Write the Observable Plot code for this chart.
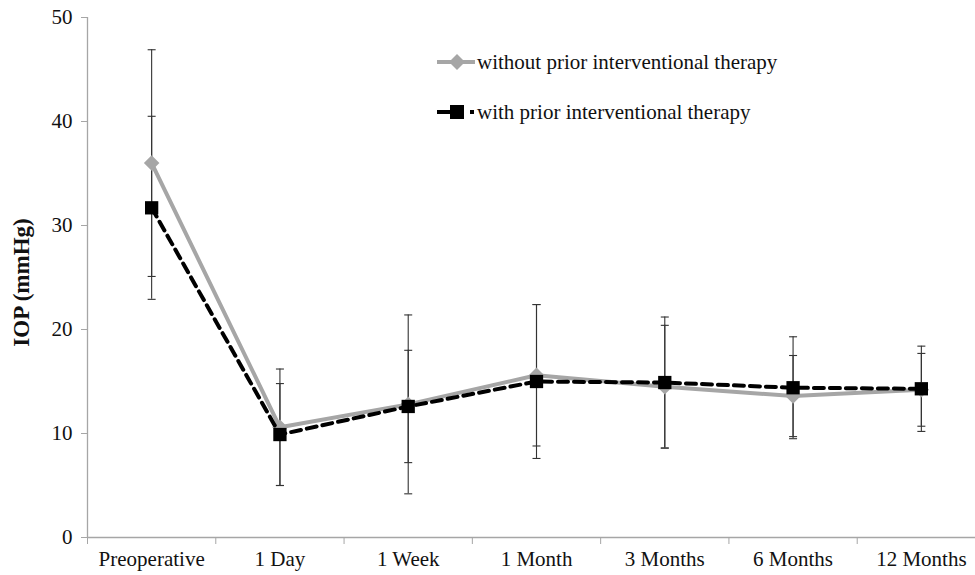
<!DOCTYPE html>
<html>
<head>
<meta charset="utf-8">
<script src="https://cdn.jsdelivr.net/npm/d3@7"></script>
<script src="https://cdn.jsdelivr.net/npm/@observablehq/plot@0.6"></script>
<style>
  html, body { margin: 0; padding: 0; background: #fff; overflow: hidden; }
  #wrap { position: relative; width: 975px; height: 575px; }
  #legend { position: absolute; left: 437px; top: 46px; font-family: "Liberation Serif", "Times New Roman", Times, serif; font-size: 21px; color: #111; }
  #legend .row { display: flex; align-items: center; height: 32px; margin-bottom: 18px; }
  #legend svg { display: block; }
  svg.plot text { font-family: "Liberation Serif", "Times New Roman", Times, serif; }
</style>
</head>
<body>
<div id="wrap"></div>
<script>
const categories = ["Preoperative", "1 Day", "1 Week", "1 Month", "3 Months", "6 Months", "12 Months"];
const withoutMean = [36.0, 10.6, 12.8, 15.6, 14.5, 13.6, 14.2];
const withoutSD   = [10.9, 5.6, 8.6, 6.8, 5.9, 3.9, 3.5];
const withMean    = [31.7, 9.9, 12.6, 15.0, 14.9, 14.4, 14.3];
const withSD      = [8.8, 4.9, 5.4, 7.4, 6.3, 4.9, 4.1];
const yTicks = [0, 10, 20, 30, 40, 50];
const seriesNames = ["without prior interventional therapy", "with prior interventional therapy"];

const rows = [];
categories.forEach((c, i) => {
  rows.push({series: seriesNames[0], i, pos: i + 0.5, mean: withoutMean[i], sd: withoutSD[i]});
  rows.push({series: seriesNames[1], i, pos: i + 0.5, mean: withMean[i], sd: withSD[i]});
});
const rowsWithout = rows.filter(d => d.series === seriesNames[0]);
const rowsWith = rows.filter(d => d.series === seriesNames[1]);

const capSymbol = {
  draw(context, size) {
    const r = Math.sqrt(size / Math.PI);
    context.moveTo(-r, 0);
    context.lineTo(r, 0);
  }
};

const font = '"Liberation Serif", "Times New Roman", Times, serif';
const plot = Plot.plot({
  width: 975,
  height: 575,
  marginLeft: 87,
  marginRight: -10,
  marginTop: 17,
  marginBottom: 38,
  style: {fontFamily: font, fontSize: "21px", color: "#111", background: "white", overflow: "visible"},
  x: {type: "linear", domain: [0, 7], axis: null},
  y: {domain: [0, 50], axis: null},
  marks: [
    Plot.ruleX([0], {y1: 0, y2: 50, stroke: "#a6a6a6", strokeWidth: 1.3}),
    Plot.ruleY([0], {stroke: "#a6a6a6", strokeWidth: 1.3}),
    Plot.axisY({ticks: yTicks, tickSize: 6, tickPadding: 9, stroke: "#a6a6a6", fill: "#111", label: null, fontSize: 21}),
    Plot.axisX({ticks: d3.range(0, 7), tickSize: 7, tickFormat: () => "", stroke: "#a6a6a6", label: null}),
    Plot.axisX({ticks: categories.map((c, i) => i + 0.5), tickSize: 0, tickPadding: 14, tickFormat: v => categories[Math.round(v - 0.5)], fill: "#111", label: null, fontSize: 21}),
    Plot.text(["IOP (mmHg)"], {frameAnchor: "left", textAnchor: "middle", dx: -66, dy: 5, rotate: -90, fontWeight: "bold", fontSize: 23, fill: "#111"}),
    Plot.ruleX(rows, {x: "pos", y1: d => d.mean - d.sd, y2: d => d.mean + d.sd, stroke: "#333", strokeWidth: 1.1}),
    Plot.dot(rows, {x: "pos", y: d => d.mean - d.sd, symbol: capSymbol, r: 4, stroke: "#333", strokeWidth: 1.1, fill: "none"}),
    Plot.dot(rows, {x: "pos", y: d => d.mean + d.sd, symbol: capSymbol, r: 4, stroke: "#333", strokeWidth: 1.1, fill: "none"}),
    Plot.line(rowsWithout, {x: "pos", y: "mean", stroke: "#a6a6a6", strokeWidth: 4}),
    Plot.dot(rowsWithout, {x: "pos", y: "mean", symbol: "diamond2", r: 7, fill: "#a6a6a6", stroke: "none"}),
    Plot.line(rowsWith, {x: "pos", y: "mean", stroke: "#000", strokeWidth: 4, strokeDasharray: "10,6"}),
    Plot.dot(rowsWith, {x: "pos", y: "mean", symbol: "square", r: 7.5, fill: "#000", stroke: "none"})
  ]
});

const wrap = document.getElementById("wrap");
wrap.appendChild(plot);

const legend = document.createElement("div");
legend.id = "legend";
const sw1 = `<svg width="40" height="20"><line x1="0" y1="10" x2="38" y2="10" stroke="#a6a6a6" stroke-width="4"/><path d="M20,2 L28,10 L20,18 L12,10 Z" fill="#a6a6a6"/></svg>`;
const sw2 = `<svg width="40" height="20"><line x1="0" y1="10" x2="14" y2="10" stroke="#000" stroke-width="4"/><rect x="13" y="3" width="14" height="14" fill="#000"/><line x1="33" y1="10" x2="37" y2="10" stroke="#000" stroke-width="4"/></svg>`;
legend.innerHTML = `<div class="row">${sw1}<span>${seriesNames[0]}</span></div><div class="row">${sw2}<span>${seriesNames[1]}</span></div>`;
wrap.appendChild(legend);
</script>
</body>
</html>
